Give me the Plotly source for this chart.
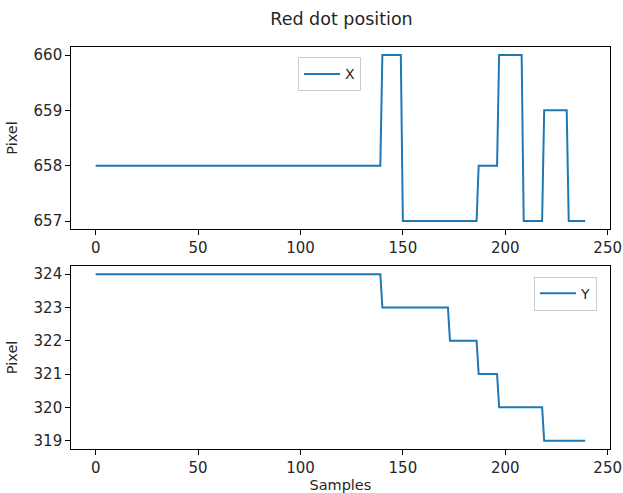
import numpy as np
import plotly.graph_objects as go

# Step levels and run lengths (samples)
x_levels = [658, 660, 657, 658, 660, 657, 659, 657]
x_runs = [140, 10, 37, 10, 12, 10, 12, 9]
y_levels = [324, 323, 322, 321, 320, 319]
y_runs = [140, 33, 14, 10, 22, 21]

x_ticks = [0, 50, 100, 150, 200, 250]
top_ticks = [657, 658, 659, 660]
bottom_ticks = [319, 320, 321, 322, 323, 324]

x_vals = np.repeat(x_levels, x_runs)
y_vals = np.repeat(y_levels, y_runs)
samples = np.arange(len(x_vals))

W, H = 623, 493
BLUE = "#1f77b4"
FONT = "DejaVu Sans"
TXT = "#262626"

fig = go.Figure()
fig.add_trace(go.Scatter(x=samples, y=x_vals, mode="lines", name="X",
                         line=dict(color=BLUE, width=2), xaxis="x", yaxis="y",
                         legend="legend"))
fig.add_trace(go.Scatter(x=samples, y=y_vals, mode="lines", name="Y",
                         line=dict(color=BLUE, width=2), xaxis="x2", yaxis="y2",
                         legend="legend2"))

n = len(samples)
pad = 0.05 * (n - 1)
xr = [-pad, (n - 1) + pad]


def yrange(levels):
    lo, hi = min(levels), max(levels)
    m = 0.05 * (hi - lo)
    return [lo - m, hi + m]


axis_common = dict(showgrid=False, zeroline=False, showline=True, mirror=True,
                   linecolor="black", linewidth=1, ticks="outside", ticklen=5,
                   tickwidth=1, tickcolor="black",
                   tickfont=dict(family=FONT, size=15, color=TXT))

xd = [71.2 / W, 609.6 / W]
ttl_font = dict(family=FONT, size=14.5, color=TXT)
fig.update_layout(
    width=W, height=H,
    margin=dict(l=0, r=0, t=0, b=0, autoexpand=False),
    paper_bgcolor="white", plot_bgcolor="white",
    font=dict(family=FONT, size=14, color=TXT),
    title=dict(text="Red dot position", x=341.5 / W, xanchor="center",
               y=1 - 19 / H, yanchor="middle",
               font=dict(family=FONT, size=17.5, color=TXT)),
    xaxis=dict(domain=xd, range=xr, tickvals=x_ticks, anchor="y", **axis_common),
    yaxis=dict(domain=[1 - 229.3 / H, 1 - 46.7 / H], range=yrange(x_levels),
               tickvals=top_ticks, anchor="x",
               title=dict(text="Pixel", font=ttl_font, standoff=12),
               **axis_common),
    xaxis2=dict(domain=xd, range=xr, tickvals=x_ticks, anchor="y2",
                title=dict(text="Samples", font=ttl_font, standoff=0),
                **axis_common),
    yaxis2=dict(domain=[1 - 449 / H, 1 - 265.8 / H], range=yrange(y_levels),
                tickvals=bottom_ticks, anchor="x2",
                title=dict(text="Pixel", font=ttl_font, standoff=12),
                **axis_common),
    legend=dict(x=298 / W, y=1 - 57.3 / H, xanchor="left", yanchor="top",
                bgcolor="white", bordercolor="#cccccc", borderwidth=1,
                itemwidth=36,
                font=dict(family=FONT, size=14, color=TXT)),
    legend2=dict(x=534 / W, y=1 - 276.7 / H, xanchor="left", yanchor="top",
                 bgcolor="white", bordercolor="#cccccc", borderwidth=1,
                 itemwidth=36,
                 font=dict(family=FONT, size=14, color=TXT)),
    showlegend=True,
)

fig.write_html("out.html", config={"displayModeBar": False},
               post_script="document.body.style.margin='0';"
                           "document.body.style.overflow='hidden';")
